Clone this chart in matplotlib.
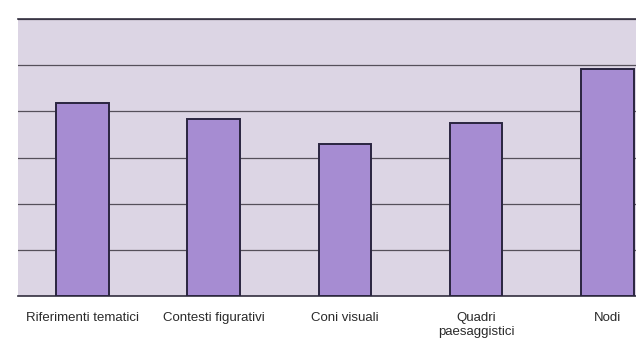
import numpy as np
import matplotlib.pyplot as plt

categories = ['Riferimenti tematici', 'Contesti figurativi', 'Coni visuali',
              'Quadri\npaesaggistici', 'Nodi']
values = [4.18, 3.83, 3.29, 3.75, 4.92]

BG = '#dcd5e4'
BAR = '#a68cd2'
EDGE = '#2a2540'
GRID = '#55505a'

fig = plt.figure(figsize=(6.36, 3.40), dpi=100)
ax = fig.add_axes([0.0283, 0.1294, 1.028, 0.8147])
ax.set_facecolor(BG)

x = np.arange(len(categories))
ax.bar(x, values, width=0.40, color=BAR, edgecolor=EDGE, linewidth=1.4, zorder=3)

ax.set_xlim(-0.49, len(categories) - 0.51)
ax.set_ylim(0, 6)
ax.set_yticks(np.arange(0, 7))
ax.yaxis.grid(True, color=GRID, linewidth=0.9, zorder=0)
ax.tick_params(axis='y', left=False, labelleft=False)

ax.set_xticks(x)
ax.set_xticklabels(categories, fontsize=9.5, color='#2a2a2a',
                   family='Liberation Sans', linespacing=1.2)
ax.tick_params(axis='x', bottom=False, pad=8)

for side in ['left', 'right']:
    ax.spines[side].set_visible(False)
ax.spines['top'].set_color('#333040')
ax.spines['top'].set_linewidth(1.2)
ax.spines['bottom'].set_color('#333040')
ax.spines['bottom'].set_linewidth(1.2)

fig.savefig('out.png', dpi=100)
